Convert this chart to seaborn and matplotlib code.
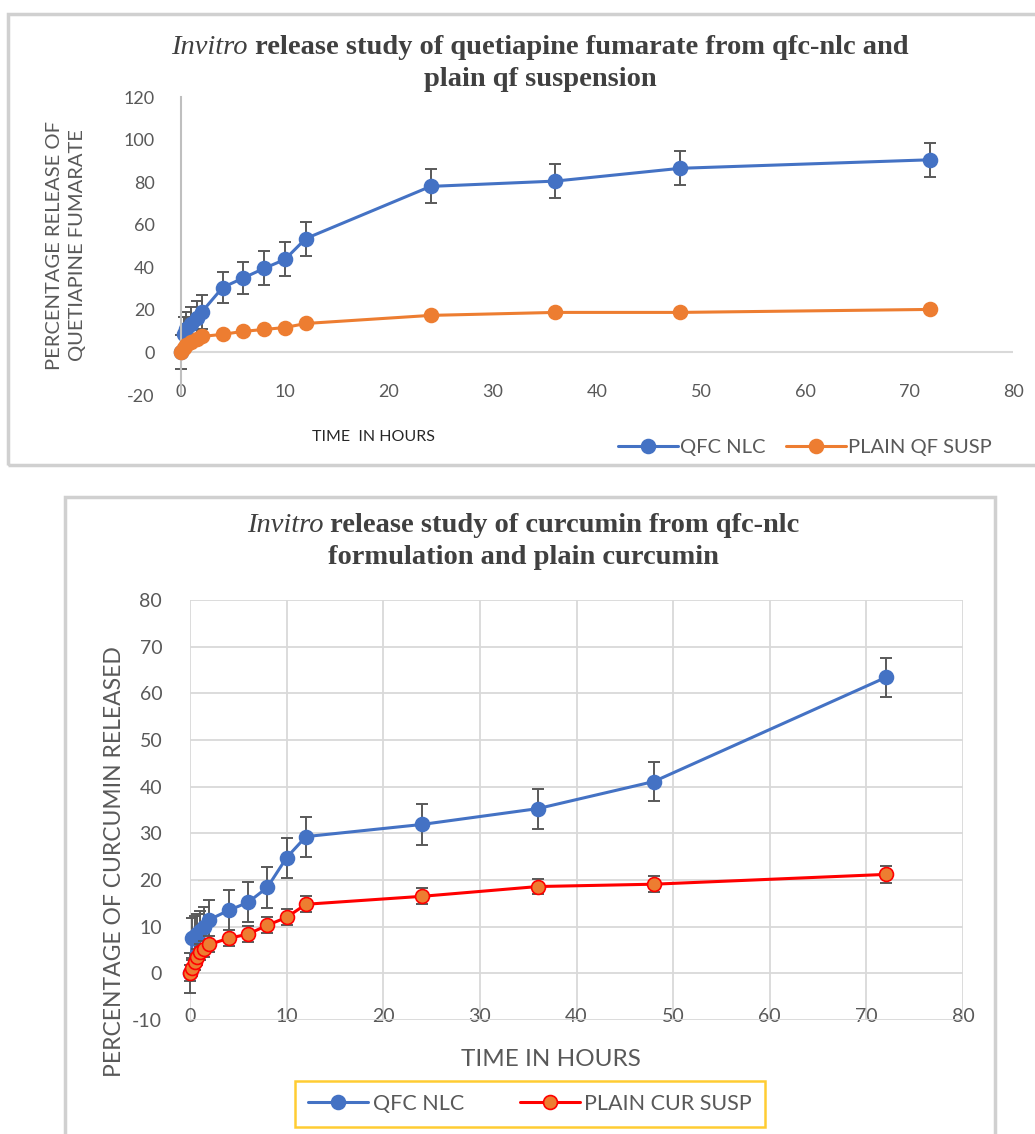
import matplotlib
matplotlib.use("Agg")
import matplotlib.patches as patches
import seaborn as sns
from matplotlib import pyplot as plt

# ---- quetiapine fumarate (top panel) ----
qf_time = [0, 0.25, 0.5, 1, 1.5, 2, 4, 6, 8, 10, 12, 24, 36, 48, 72]
qf_nlc = [0, 8.5, 11, 13.5, 16, 19, 30.5, 35, 39.5, 43.7, 53.5, 78, 80.5, 86.5, 90.5]
qf_nlc_err = [8, 8, 8, 8, 8, 8, 7.5, 7.5, 8, 8, 8, 8, 8, 8, 8]
qf_susp = [0, 2, 3.3, 5, 6.5, 7.5, 8.5, 9.9, 10.8, 11.7, 13.6, 17.4, 18.8, 18.8, 20.2]

# ---- curcumin (bottom panel) ----
cur_time = [0, 0.25, 0.5, 0.75, 1, 1.5, 2, 4, 6, 8, 10, 12, 24, 36, 48, 72]
cur_nlc = [0, 7.5, 8, 8.5, 9, 10, 11.5, 13.5, 15.2, 18.4, 24.8, 29.3, 31.9, 35.3, 41.1, 63.4]
cur_nlc_err = [4.3, 4.3, 4.3, 4.3, 4.3, 4.3, 4.3, 4.3, 4.3, 4.3, 4.3, 4.3, 4.3, 4.3, 4.1, 4.2]
cur_susp = [0, 1.1, 2.4, 3.5, 4.6, 5.3, 6.2, 7.5, 8.4, 10.3, 12.0, 14.8, 16.5, 18.6, 19.1, 21.2]
cur_susp_err = [1.7, 1.7, 1.7, 1.7, 1.7, 1.7, 1.7, 1.7, 1.7, 1.7, 1.7, 1.7, 1.7, 1.7, 1.7, 1.8]

x_ticks = [0, 10, 20, 30, 40, 50, 60, 70, 80]
qf_y_ticks = [-20, 0, 20, 40, 60, 80, 100, 120]
cur_y_ticks = [-10, 0, 10, 20, 30, 40, 50, 60, 70, 80]

BLUE = "#4472C4"
ORANGE = "#ED7D31"
RED = "#FF0000"
ERR = "#595959"
TXT = "#595959"
GRID = "#D9D9D9"

sns.set_theme(style="white")
plt.rcParams["font.family"] = ["Lato", "DejaVu Sans"]
plt.rcParams["axes.unicode_minus"] = False

W, H = 1035, 1134
fig = plt.figure(figsize=(W / 100, H / 100), dpi=100)


def box(l, t, r, b):
    return [l / W, 1 - b / H, (r - l) / W, (b - t) / H]


def fx(px):
    return px / W


def fy(py):
    return 1 - py / H


def series(ax, t, y, err, color, face, edge, label, z):
    if err is not None:
        ax.errorbar(t, y, yerr=err, fmt="none", ecolor=ERR, elinewidth=1.4,
                    capsize=4, capthick=1.4, zorder=z, clip_on=False)
    sns.lineplot(x=t, y=y, ax=ax, color=color, linewidth=2.2, marker="o",
                 markersize=10, markerfacecolor=face, markeredgecolor=edge,
                 markeredgewidth=1.2, label=label, legend=False, zorder=z + 0.5,
                 clip_on=False)


def title_line(y_px, x_px, italic, rest, size):
    r = fig.canvas.get_renderer()
    t1 = fig.text(0, 0, italic, style="italic", fontsize=size, color="#404040",
                  family="Liberation Serif", ha="left", va="center")
    t2 = fig.text(0, 0, rest, weight="bold", fontsize=size, color="#404040",
                  family="Liberation Serif", ha="left", va="center")
    w1 = t1.get_window_extent(r).width
    w2 = t2.get_window_extent(r).width
    left = x_px - (w1 + w2) / 2
    t1.set_position((fx(left), fy(y_px)))
    t2.set_position((fx(left + w1), fy(y_px)))


# panel frames
fig.add_artist(patches.Rectangle((fx(8), fy(465)), fx(1040) - fx(8), fy(14) - fy(465),
                                 transform=fig.transFigure, fill=False,
                                 edgecolor="#D0D0D0", linewidth=2.5))
fig.add_artist(patches.Rectangle((fx(65), fy(1140)), fx(995) - fx(65), fy(497) - fy(1140),
                                 transform=fig.transFigure, fill=False,
                                 edgecolor="#D0D0D0", linewidth=2.5))

# ---------- top chart ----------
ax1 = fig.add_axes(box(181, 97, 1013, 395))
ax1.axhline(0, color=GRID, linewidth=1.5, zorder=1)
series(ax1, qf_time, qf_nlc, qf_nlc_err, BLUE, BLUE, BLUE, "QFC NLC", 2)
series(ax1, qf_time, qf_susp, None, ORANGE, ORANGE, ORANGE, "PLAIN QF SUSP", 4)
ax1.set_xlim(0, 80)
ax1.set_ylim(-20, 120)
ax1.set_xticks(x_ticks)
ax1.set_yticks(qf_y_ticks)
for s in ["top", "right", "bottom"]:
    ax1.spines[s].set_visible(False)
ax1.spines["left"].set_color("#BFBFBF")
ax1.spines["left"].set_linewidth(1.5)
ax1.tick_params(axis="x", length=0, pad=-8, labelsize=13, labelcolor=TXT)
ax1.tick_params(axis="y", length=0, pad=19, labelsize=13, labelcolor=TXT)
ax1.set_xlabel("")
ax1.set_ylabel("")
ax1.legend(loc="center", bbox_to_anchor=(fx(805), fy(447)),
           bbox_transform=fig.transFigure, ncol=2, frameon=False, fontsize=14.5,
           labelcolor=TXT, handlelength=3.0, handletextpad=0.1, columnspacing=1.0,
           borderpad=0)

title_line(47, 540, "Invitro", " release study of quetiapine fumarate from qfc-nlc and", 20.5)
fig.text(fx(540), fy(80), "plain qf suspension", weight="bold", fontsize=20.5,
         color="#404040", family="Liberation Serif", ha="center", va="center")
fig.text(fx(66), fy(245), "PERCENTAGE RELEASE OF\nQUETIAPINE FUMARATE", rotation=90,
         ha="center", va="center", multialignment="center", fontsize=14.5,
         color=TXT, linespacing=1.45)
fig.text(fx(373), fy(437), "TIME  IN HOURS", ha="center", va="center",
         fontsize=11.5, color="#262626")

# ---------- bottom chart ----------
ax2 = fig.add_axes(box(190, 600, 963, 1020))
series(ax2, cur_time, cur_nlc, cur_nlc_err, BLUE, BLUE, BLUE, "QFC NLC", 2)
series(ax2, cur_time, cur_susp, cur_susp_err, RED, ORANGE, RED, "PLAIN CUR SUSP", 4)
ax2.set_xlim(0, 80)
ax2.set_ylim(-10, 80)
ax2.set_xticks(x_ticks)
ax2.set_yticks(cur_y_ticks)
ax2.grid(True, color=GRID, linewidth=1.3)
ax2.set_axisbelow(True)
for s in ["top", "right", "bottom", "left"]:
    ax2.spines[s].set_visible(False)
ax2.tick_params(axis="x", length=0, pad=-9, labelsize=14, labelcolor=TXT)
ax2.tick_params(axis="y", length=0, pad=20, labelsize=14, labelcolor=TXT)
ax2.set_xlabel("")
ax2.set_ylabel("")
leg = ax2.legend(loc="center", bbox_to_anchor=(fx(530), fy(1104)),
                 bbox_transform=fig.transFigure, ncol=2, frameon=True, fontsize=15.5,
                 labelcolor=TXT, handlelength=2.8, handletextpad=0.2, columnspacing=2.6,
                 borderpad=0.6, borderaxespad=0, fancybox=False)
leg.get_frame().set_edgecolor("#FFC000")
leg.get_frame().set_linewidth(1.8)

title_line(525, 523, "Invitro", " release study of curcumin from qfc-nlc", 20.5)
fig.text(fx(523), fy(557), "formulation and plain curcumin", weight="bold", fontsize=20.5,
         color="#404040", family="Liberation Serif", ha="center", va="center")
fig.text(fx(115), fy(862), "PERCENTAGE OF CURCUMIN RELEASED", rotation=90,
         ha="center", va="center", fontsize=16.5, color=TXT)
fig.text(fx(551), fy(1060), "TIME IN HOURS", ha="center", va="center",
         fontsize=17.5, color=TXT)

fig.savefig("out.png", dpi=100)
